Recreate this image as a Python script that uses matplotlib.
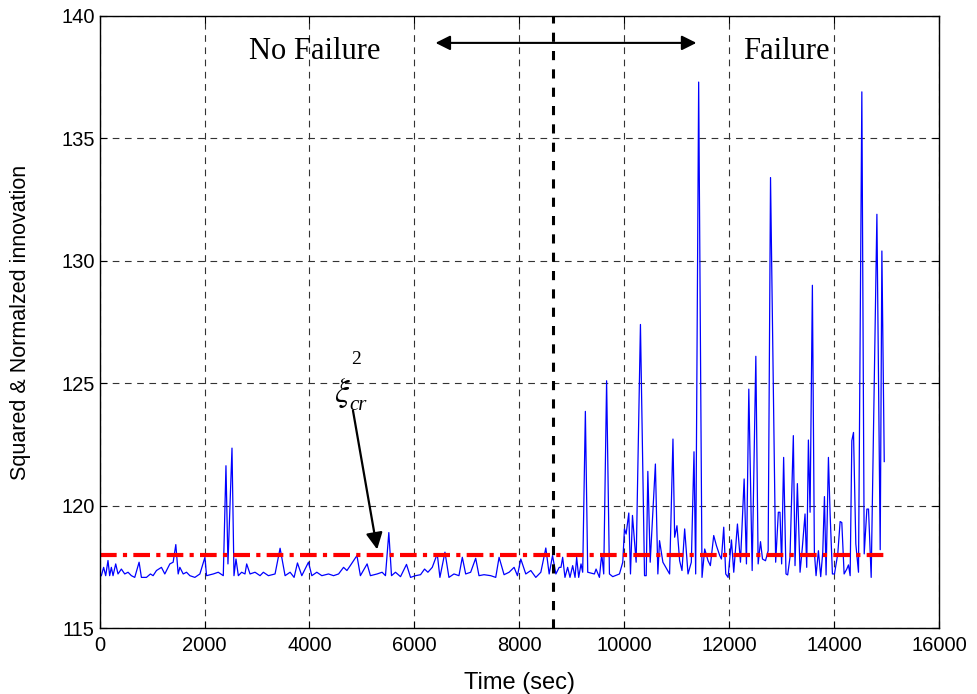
import numpy as np
import matplotlib
matplotlib.use('Agg')
import matplotlib.pyplot as plt

time_s = [
    32, 76, 115, 159, 191, 223, 255, 306, 350, 414, 478, 541, 605, 669, 752, 796,
    892, 968, 1019, 1083, 1178, 1242, 1338, 1401, 1452, 1497, 1529, 1593, 1656,
    1720, 1815, 1911, 2007, 2038, 2166, 2261, 2357, 2408, 2446, 2523, 2561, 2599,
    2644, 2707, 2771, 2803, 2867, 2962, 3058, 3121, 3217, 3344, 3440, 3535, 3631,
    3707, 3771, 3854, 3981, 4045, 4140, 4236, 4363, 4459, 4555, 4650, 4714, 4778,
    4905, 4971, 5099, 5162, 5290, 5385, 5449, 5513, 5564, 5640, 5736, 5850, 5927,
    6022, 6118, 6194, 6258, 6341, 6436, 6487, 6583, 6659, 6755, 6850, 6914, 6978,
    7073, 7169, 7232, 7328, 7455, 7551, 7615, 7710, 7806, 7901, 7965, 8029, 8124,
    8220, 8315, 8411, 8506, 8570, 8634, 8698, 8761, 8795, 8827, 8871, 8922, 8967,
    9018, 9063, 9094, 9133, 9177, 9209, 9260, 9305, 9432, 9464, 9528, 9572, 9610,
    9665, 9719, 9782, 9910, 9973, 10005, 10037, 10088, 10120, 10158, 10228, 10310,
    10388, 10420, 10451, 10496, 10595, 10642, 10674, 10738, 10866, 10930, 10962,
    11006, 11057, 11102, 11153, 11217, 11280, 11331, 11363, 11420, 11484, 11535,
    11599, 11643, 11707, 11758, 11822, 11854, 11898, 11936, 11981, 12045, 12089,
    12159, 12217, 12287, 12331, 12376, 12440, 12510, 12554, 12599, 12637, 12694,
    12745, 12790, 12888, 12939, 12970, 13002, 13040, 13085, 13117, 13161, 13225,
    13257, 13302, 13353, 13397, 13448, 13480, 13512, 13544, 13588, 13626, 13658,
    13703, 13747, 13786, 13818, 13849, 13894, 13926, 13970, 14009, 14072, 14117,
    14149, 14193, 14244, 14276, 14308, 14340, 14372, 14416, 14467, 14531, 14576,
    14627, 14658, 14709, 14818, 14881, 14913, 14958,
]
innovation = [
    117.14, 117.48, 117.14, 117.76, 117.14, 117.48, 117.14, 117.62, 117.21, 117.41,
    117.21, 117.28, 117.14, 117.07, 117.69, 117.07, 117.07, 117.21, 117.14, 117.35,
    117.48, 117.21, 117.62, 117.69, 118.41, 117.21, 117.48, 117.21, 117.28, 117.14,
    117.07, 117.21, 117.89, 117.14, 117.21, 117.28, 117.14, 121.63, 117.62, 122.35,
    117.14, 117.82, 117.14, 117.28, 117.21, 117.62, 117.21, 117.28, 117.14, 117.28,
    117.14, 117.21, 118.26, 117.14, 117.28, 117.07, 117.66, 117.14, 117.69, 117.14,
    117.28, 117.14, 117.21, 117.14, 117.21, 117.48, 117.35, 117.55, 117.96, 117.14,
    117.62, 117.14, 117.21, 117.28, 117.14, 118.90, 117.14, 117.28, 117.10, 117.60,
    117.07, 117.14, 117.18, 117.41, 117.28, 117.48, 118.03, 117.07, 118.10, 117.07,
    117.21, 117.14, 117.89, 117.21, 117.28, 117.85, 117.14, 117.18, 117.14, 117.07,
    117.89, 117.18, 117.28, 117.48, 117.14, 117.82, 117.21, 117.35, 117.07, 117.28,
    118.27, 117.21, 117.96, 117.21, 117.48, 117.48, 117.89, 117.07, 117.48, 117.07,
    117.55, 117.07, 117.89, 117.07, 117.62, 117.28, 123.85, 117.28, 117.21, 117.41,
    117.07, 118.03, 117.21, 125.10, 117.21, 117.10, 117.21, 117.69, 119.05, 118.84,
    119.70, 117.21, 119.60, 117.69, 127.40, 117.14, 117.14, 121.40, 117.69, 121.70,
    117.21, 118.57, 117.69, 117.21, 122.72, 118.71, 119.18, 117.75, 117.35, 119.05,
    117.21, 117.69, 122.20, 117.21, 137.30, 117.07, 118.23, 117.75, 117.55, 118.78,
    118.37, 117.96, 117.82, 119.12, 117.21, 117.07, 118.60, 117.28, 119.25, 117.69,
    121.09, 117.62, 124.76, 117.35, 126.10, 117.62, 118.53, 117.82, 117.75, 118.16,
    133.40, 117.69, 119.73, 119.73, 117.62, 121.97, 117.21, 117.17, 117.89, 122.86,
    117.55, 120.90, 117.28, 118.30, 119.66, 117.48, 122.68, 119.73, 129.00, 118.10,
    117.14, 118.16, 117.10, 118.10, 120.37, 117.17, 121.97, 119.66, 117.21, 117.21,
    118.03, 119.35, 119.31, 117.21, 117.41, 117.58, 117.14, 122.65, 122.99, 118.44,
    117.28, 136.90, 118.03, 119.86, 119.86, 117.07, 131.90, 118.20, 130.40, 121.80,
]
threshold = 118.0
threshold_span = [0, 15000]
failure_time = 8650

fig = plt.figure(figsize=(9.77, 6.94), dpi=100)
ax = fig.add_axes([0.102, 0.095, 0.859, 0.882])

ax.plot(time_s, innovation, color='blue', lw=0.9)
ax.plot(threshold_span, [threshold, threshold], color='red', lw=3,
        linestyle=(0, (4, 1.5, 1, 1.5)))
ax.axvline(failure_time, color='black', lw=2.2, linestyle=(0, (3, 3)))

ax.set_xlim(0, 16000)
ax.set_ylim(115, 140)
ax.set_xticks(np.arange(0, 16001, 2000))
ax.set_yticks(np.arange(115, 141, 5))
ax.grid(True, color='0.2', lw=0.8, linestyle=(0, (6, 5)))
ax.tick_params(direction='in', top=True, right=True, labelsize=14.5, length=5)
ax.tick_params(axis='x', pad=6)
for lab in ax.get_xticklabels() + ax.get_yticklabels():
    lab.set_family('Liberation Sans')
for s in ax.spines.values():
    s.set_linewidth(1.0)

ax.set_xlabel('Time (sec)', fontsize=17, family='Liberation Sans')
ax.xaxis.set_label_coords(0.5, -0.072)
ax.set_ylabel('Squared & Normalzed innovation', fontsize=15.5,
              family='Liberation Sans')
ax.yaxis.set_label_coords(-0.082, 0.5)

serif = 'Liberation Serif'
ax.text(4100, 138.55, 'No Failure', fontsize=22, family=serif,
        ha='center', va='center')
ax.text(13100, 138.55, 'Failure', fontsize=22, family=serif,
        ha='center', va='center')
ax.annotate('', xy=(6350, 138.9), xytext=(11430, 138.9),
            arrowprops=dict(arrowstyle='<|-|>', color='black', lw=1.5,
                            mutation_scale=22))

ax.text(4630, 124.6, r'$\xi$', fontsize=24, family=serif,
        ha='center', va='center', math_fontfamily='stix')
ax.text(4880, 125.95, '2', fontsize=14, family=serif, ha='center', va='center')
ax.text(4930, 124.1, 'cr', fontsize=15, family=serif, style='italic',
        ha='center', va='center')
ax.annotate('', xy=(5300, 118.1), xytext=(4820, 124.0),
            arrowprops=dict(arrowstyle='-|>', color='black', lw=1.6,
                            mutation_scale=25))

fig.savefig('out.png', dpi=100)
